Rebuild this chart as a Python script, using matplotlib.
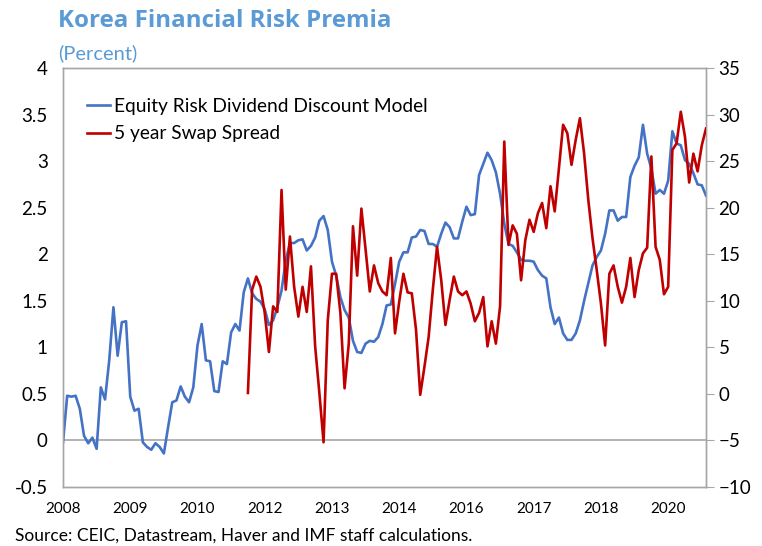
import numpy as np
import pandas as pd
import matplotlib.pyplot as plt

# ── Data (monthly, Jan 2008 – Oct 2020) ───────────────────────────────────────
dates = pd.date_range('2008-01-01', periods=154, freq='MS')

# Equity risk premium, dividend discount model (percent, left axis)
equity_risk = [
    -0.02, 0.48, 0.47, 0.48, 0.34, 0.05, -0.03, 0.03, -0.09, 0.57, 0.44, 0.86,
    1.43, 0.91, 1.27, 1.28, 0.47, 0.32, 0.34, -0.02, -0.07, -0.10, -0.03, -0.07,
    -0.14, 0.14, 0.41, 0.43, 0.58, 0.47, 0.41, 0.57, 1.02,
    1.25, 0.86, 0.85, 0.53, 0.52, 0.85, 0.82, 1.16, 1.25, 1.18, 1.59, 1.74,
    1.58, 1.52, 1.49, 1.41, 1.24, 1.29, 1.43, 1.61, 1.93, 2.12, 2.12, 2.15,
    2.16, 2.04, 2.09, 2.18, 2.36,
    2.41, 2.26, 1.92, 1.77, 1.54, 1.40, 1.32, 1.07, 0.95, 0.94, 1.04, 1.07,
    1.06, 1.11, 1.25, 1.45, 1.46, 1.68, 1.92, 2.02, 2.02, 2.18, 2.19, 2.26,
    2.25, 2.11, 2.11, 2.08, 2.22, 2.34, 2.29, 2.17,
    2.17, 2.35, 2.51, 2.42, 2.43, 2.85, 2.97, 3.09, 3.01, 2.88, 2.65, 2.33,
    2.11, 2.09, 2.02, 1.94, 1.93, 1.93, 1.92, 1.83, 1.77, 1.74, 1.43, 1.25,
    1.32, 1.15, 1.08, 1.08, 1.15, 1.29, 1.50,
    1.69, 1.88, 1.97, 2.04, 2.22, 2.47, 2.47, 2.36, 2.40, 2.40, 2.83, 2.95,
    3.04, 3.39, 3.08, 2.92, 2.65, 2.69, 2.65, 2.79, 3.32, 3.19, 3.17, 3.01,
    2.97, 2.87, 2.75, 2.74, 2.63,
]

# 5 year swap spread (right axis), starts Sep 2011
swap_start = '2011-09-01'
swap_spread = [
    0.1, 11.2, 12.6, 11.5, 8.7, 4.5, 9.4, 8.8, 21.9, 11.2, 16.9, 11.5, 8.3,
    11.5, 8.8, 13.7, 5.1, 0.1, -5.2,
    7.9, 12.9, 12.9, 8.7, 0.6, 5.4, 18.0, 12.7, 19.9, 15.5, 11.0, 13.8, 11.9,
    11.0, 10.6, 14.6, 6.5, 9.9, 12.9, 10.9, 10.8, 6.9, -0.1, 2.9, 6.1, 11.2,
    15.8, 12.2, 7.4, 10.1, 12.6,
    11.0, 10.6, 11.0, 9.7, 7.8, 8.7, 10.4, 5.1, 7.8, 5.4, 9.4, 27.1, 16.0,
    18.1, 17.2, 12.2, 16.5, 18.7, 17.4, 19.4, 20.5, 17.8, 22.3, 19.6, 24.2,
    28.9, 28.0, 24.6, 27.3, 29.6,
    25.8, 20.8, 16.7, 13.3, 9.7, 5.2, 12.9, 13.8, 11.5, 9.8, 11.5, 14.6, 10.4,
    13.3, 15.1, 15.7, 25.5, 15.8, 14.4, 10.7, 11.5, 26.2, 26.9, 30.3, 27.6,
    22.7, 25.8, 23.9, 26.7, 28.5,
]

# Category axis: a label every 16 months
label_every = 16

# ── Plot ──────────────────────────────────────────────────────────────────────
BLUE = '#4472C4'
RED = '#C00000'
GRID = '#A6A6A6'
TITLE = '#5B9BD5'
FONT = 'Lato'

x_all = np.arange(len(dates))
x_swap = x_all[dates.get_loc(pd.Timestamp(swap_start)):]

fig = plt.figure(figsize=(7.62, 5.46), dpi=100)
ax = fig.add_axes([63 / 762, 1 - 487 / 546, (706 - 63) / 762, (487 - 68) / 546])
ax2 = ax.twinx()

l1, = ax.plot(x_all, equity_risk, color=BLUE, lw=1.9,
              label='Equity Risk Dividend Discount Model', zorder=3)
l2, = ax2.plot(x_swap, swap_spread, color=RED, lw=1.9,
               label='5 year Swap Spread', zorder=3)
ax.axhline(0, color=GRID, lw=1.2, zorder=1)

ax.set_xlim(0, len(dates) - 1)
ax.set_ylim(-0.5, 4)
ax2.set_ylim(-10, 35)
ax.set_yticks(np.arange(-0.5, 4.01, 0.5))
ax.set_yticklabels(['-0.5', '0', '0.5', '1', '1.5', '2', '2.5', '3', '3.5', '4'])
ax2.set_yticks(np.arange(-10, 36, 5))

ticks = x_all[::label_every]
ax.set_xticks(ticks)
ax.set_xticklabels([str(dates[i].year) for i in ticks])

for a in (ax, ax2):
    for s in a.spines.values():
        s.set_color(GRID)
        s.set_linewidth(1.0)
ax.tick_params(axis='y', length=0, pad=11, labelsize=13.5, labelcolor='black')
ax.tick_params(axis='x', length=0, pad=11, labelsize=11)
ax2.tick_params(axis='y', length=6, color=GRID, pad=3, labelsize=13.5)
for lab in ax.get_xticklabels() + ax.get_yticklabels() + ax2.get_yticklabels():
    lab.set_fontfamily(FONT)

ax.legend(handles=[l1, l2], loc='upper left', bbox_to_anchor=(0.01, 0.97),
          frameon=False, handlelength=1.2, handletextpad=0.2, labelspacing=0.55,
          prop={'family': FONT, 'size': 13.8})

fig.text(58 / 762, 1 - 21 / 546, 'Korea Financial Risk Premia', color=TITLE,
         fontsize=17.4, fontweight='bold', family='Open Sans', va='center')
fig.text(58 / 762, 1 - 53 / 546, '(Percent)', color=TITLE,
         fontsize=14.5, family=FONT, va='center')
fig.text(15 / 762, 1 - 536 / 546, 'Source: CEIC, Datastream, Haver and IMF staff calculations.',
         fontsize=12.5, family=FONT, va='center')

fig.savefig('out.png', dpi=100)
